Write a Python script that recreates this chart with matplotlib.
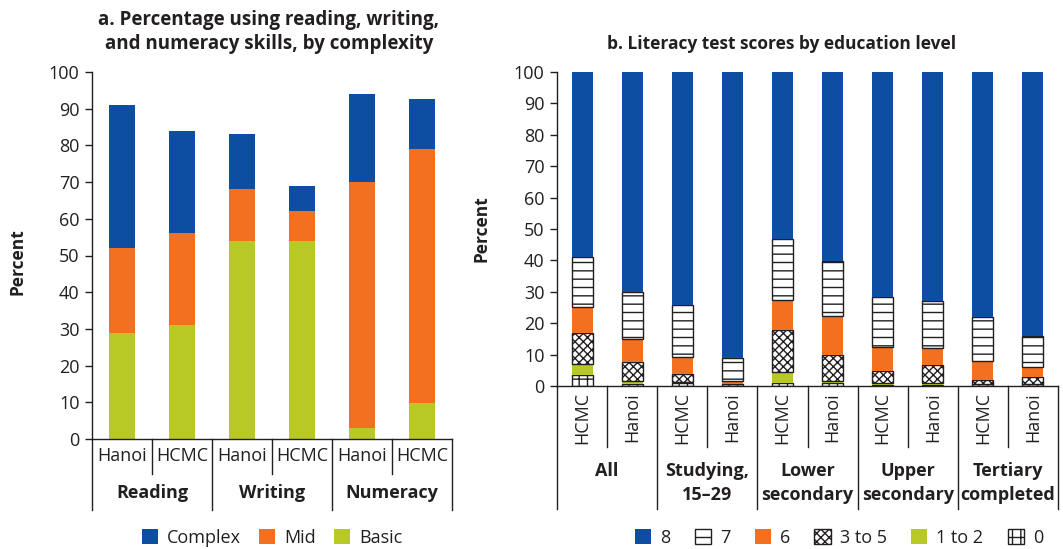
import matplotlib
matplotlib.use("Agg")
import matplotlib.pyplot as plt
from matplotlib.patches import Patch
from matplotlib.lines import Line2D
import numpy as np

# ---------------- data ----------------
# Panel a
a_cities = ["Hanoi", "HCMC", "Hanoi", "HCMC", "Hanoi", "HCMC"]
a_groups = ["Reading", "Writing", "Numeracy"]
a_basic = [29, 31, 54, 54, 3, 9.7]
a_mid = [23, 25, 14, 8, 67, 69.2]
a_complex = [39, 28, 15, 7, 24, 13.8]

# Panel b
b_cities = ["HCMC", "Hanoi"] * 5
b_groups = ["All", "Studying,\n15–29", "Lower\nsecondary", "Upper\nsecondary", "Tertiary\ncompleted"]
b_s0 = [3.4, 0.6, 1.1, 0.6, 1.1, 0.9, 0.3, 0.3, 0.5, 0.5]
b_s1to2 = [3.5, 1.0, 0.2, 0.0, 3.5, 0.7, 0.5, 0.6, 0.1, 0.1]
b_s3to5 = [9.9, 6.0, 2.6, 0.0, 13.2, 8.2, 4.0, 5.9, 1.2, 2.3]
b_s6 = [8.3, 7.3, 5.4, 1.0, 9.5, 12.5, 7.6, 5.4, 6.2, 3.3]
b_s7 = [15.9, 15.0, 16.4, 7.2, 19.4, 17.5, 16.0, 14.8, 14.1, 9.7]
b_s8 = [59.0, 70.1, 74.3, 91.2, 53.3, 60.2, 71.6, 73.0, 77.9, 84.1]

# ---------------- style ----------------
BLUE = "#0D4EA2"
ORANGE = "#F37021"
GREEN = "#B8C825"
DARK = "#231F20"
FONT = "Open Sans"

plt.rcParams["font.family"] = [FONT, "DejaVu Sans"]
plt.rcParams["text.color"] = DARK
plt.rcParams["axes.edgecolor"] = DARK
plt.rcParams["xtick.color"] = DARK
plt.rcParams["ytick.color"] = DARK
plt.rcParams["hatch.linewidth"] = 1.0
plt.rcParams["hatch.color"] = DARK

W, H = 1063, 549
fig = plt.figure(figsize=(W / 100, H / 100), dpi=100)

def px_rect(x0, y0, x1, y1):
    return [x0 / W, 1 - y1 / H, (x1 - x0) / W, (y1 - y0) / H]

TICK_FS = 13
LAB_FS = 13

def style_axes(ax):
    ax.set_ylim(0, 100)
    ax.set_yticks(range(0, 101, 10))
    ax.spines["top"].set_visible(False)
    ax.spines["right"].set_visible(False)
    ax.spines["left"].set_linewidth(1.0)
    ax.spines["bottom"].set_linewidth(1.0)
    ax.tick_params(axis="y", direction="out", length=5, width=1.0, pad=4, labelsize=TICK_FS)
    ax.tick_params(axis="x", length=0, labelbottom=False)

def vline(ax, x, y0, y1):
    ax.add_line(Line2D([x, x], [y0, y1], transform=ax.get_xaxis_transform(),
                       color=DARK, lw=1.0, clip_on=False))

# ---------------- panel a ----------------
axa = fig.add_axes(px_rect(92, 72, 452, 439))
xa = np.arange(len(a_cities))
bw = 0.42
axa.bar(xa, a_basic, bw, color=GREEN, linewidth=0)
axa.bar(xa, a_mid, bw, bottom=a_basic, color=ORANGE, linewidth=0)
axa.bar(xa, a_complex, bw, bottom=np.add(a_basic, a_mid), color=BLUE, linewidth=0)
axa.set_xlim(-0.5, len(a_cities) - 0.5)
style_axes(axa)

ah = 439 - 72
for i, c in enumerate(a_cities):
    axa.text(i, -17 / ah, c, transform=axa.get_xaxis_transform(), ha="center", va="center",
             fontsize=LAB_FS)
for g, name in enumerate(a_groups):
    axa.text(2 * g + 0.5, -54 / ah, name, transform=axa.get_xaxis_transform(), ha="center",
             va="center", fontsize=LAB_FS, fontweight="bold")
for g in range(len(a_groups)):
    vline(axa, 2 * g + 0.5, 0, -35 / ah)
for b in range(len(a_groups) + 1):
    vline(axa, 2 * b - 0.5, 0, -71 / ah)

fig.text(269 / W, 1 - 32 / H, "a. Percentage using reading, writing,\nand numeracy skills, by complexity",
         ha="center", va="center", fontsize=13.5, fontweight="bold", linespacing=1.2)
fig.text(17 / W, 1 - 262 / H, "Percent", rotation=90, ha="center", va="center",
         fontsize=12.5, fontweight="bold")

fig.legend(handles=[Patch(facecolor=BLUE, label="Complex"),
                    Patch(facecolor=ORANGE, label="Mid"),
                    Patch(facecolor=GREEN, label="Basic")],
           loc="center", bbox_to_anchor=(272 / W, 1 - 538 / H), ncol=3, frameon=False,
           fontsize=LAB_FS, handlelength=0.9, handleheight=0.9, handletextpad=0.5,
           columnspacing=1.0, borderpad=0)

# ---------------- panel b ----------------
axb = fig.add_axes(px_rect(557, 72, 1058, 386))
xb = np.arange(len(b_cities))
segs = [
    (b_s0, "white", "++", DARK),
    (b_s1to2, GREEN, None, None),
    (b_s3to5, "white", "xxxx", DARK),
    (b_s6, ORANGE, None, None),
    (b_s7, "white", "--", DARK),
    (b_s8, BLUE, None, None),
]
bottom = np.zeros(len(b_cities))
for vals, fc, hatch, ec in segs:
    vals = np.array(vals, dtype=float)
    if hatch:
        axb.bar(xb, vals, bw, bottom=bottom, facecolor=fc, hatch=hatch, edgecolor=ec,
                linewidth=1.0)
    else:
        axb.bar(xb, vals, bw, bottom=bottom, color=fc, linewidth=0)
    bottom = bottom + vals
axb.set_xlim(-0.5, len(b_cities) - 0.5)
style_axes(axb)

bh = 386 - 72
for i, c in enumerate(b_cities):
    axb.text(i, -6 / bh, c, transform=axb.get_xaxis_transform(), ha="center", va="top",
             rotation=90, fontsize=LAB_FS)
for g, name in enumerate(b_groups):
    axb.text(2 * g + 0.5, -76 / bh, name, transform=axb.get_xaxis_transform(), ha="center",
             va="top", fontsize=LAB_FS, fontweight="bold", linespacing=1.45)
for g in range(len(b_groups)):
    vline(axb, 2 * g + 0.5, 0, -61 / bh)
for b in range(len(b_groups) + 1):
    vline(axb, 2 * b - 0.5, 0, -123 / bh)

fig.text(782 / W, 1 - 44 / H, "b. Literacy test scores by education level",
         ha="center", va="center", fontsize=12.5, fontweight="bold")
fig.text(481 / W, 1 - 229 / H, "Percent", rotation=90, ha="center", va="center",
         fontsize=12.5, fontweight="bold")

fig.legend(handles=[Patch(facecolor=BLUE, label="8"),
                    Patch(facecolor="white", edgecolor=DARK, hatch="--", label="7"),
                    Patch(facecolor=ORANGE, label="6"),
                    Patch(facecolor="white", edgecolor=DARK, hatch="xxxx", label="3 to 5"),
                    Patch(facecolor=GREEN, label="1 to 2"),
                    Patch(facecolor="white", edgecolor=DARK, hatch="++", label="0")],
           loc="center", bbox_to_anchor=(839 / W, 1 - 538 / H), ncol=6, frameon=False,
           fontsize=LAB_FS, handlelength=0.9, handleheight=0.9, handletextpad=0.5,
           columnspacing=1.35, borderpad=0)

fig.savefig("out.png", dpi=100)
